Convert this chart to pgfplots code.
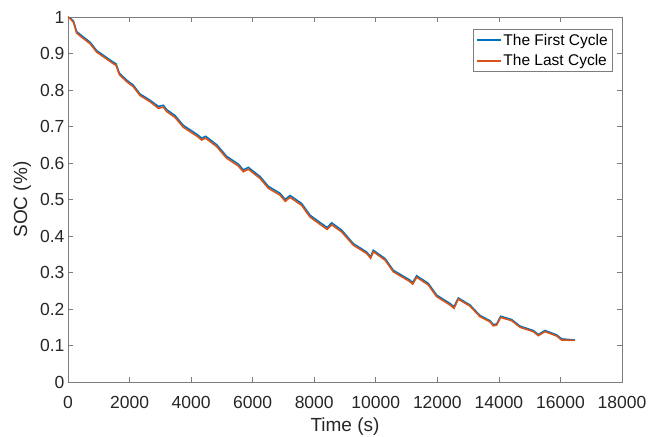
\documentclass[border=0pt]{standalone}
\usepackage{pgfplots}
\pgfplotsset{compat=1.18}
\usepackage{fontspec}
\setmainfont{Liberation Sans}
\definecolor{mblue}{RGB}{0,114,189}
\definecolor{morange}{RGB}{217,83,25}
\definecolor{axgray}{RGB}{125,125,125}
\definecolor{txtgray}{RGB}{38,38,38}
\begin{document}
\begin{tikzpicture}
\useasboundingbox (-68pt,-54pt) rectangle (595pt,382pt);
\begin{axis}[
  at={(0pt,0pt)}, anchor=south west,
  scale only axis, width=554pt, height=365pt,
  xmin=0, xmax=18000, ymin=0, ymax=1,
  xtick={0,2000,...,18000},
  ytick={0,0.1,...,1.0},
  /pgf/number format/assume math mode=true,
  /pgf/number format/1000 sep={},
  scaled x ticks=false,
  yticklabel style={/pgf/number format/fixed, /pgf/number format/precision=1},
  tick label style={font=\fontsize{17.5}{20}\selectfont, text=txtgray},
  xticklabel style={anchor=base, yshift=-26pt},
  label style={font=\fontsize{19}{22}\selectfont, text=txtgray},
  xlabel={Time (s)}, ylabel={SOC (\%)},
  xlabel style={at={(axis description cs:0.5,0)}, anchor=base, yshift=-49pt},
  ylabel style={at={(axis description cs:-0.074,0.5)}, anchor=base, rotate=0},
  axis line style={axgray, line width=0.6pt},
  every tick/.style={axgray, line width=0.6pt},
  major tick length=5pt,
  tick align=inside,
  legend style={at={(axis description cs:1,1)}, anchor=north east, xshift=-9pt, yshift=-12pt,
    draw=axgray, line width=0.6pt, font=\fontsize{15.5}{18}\selectfont, text=black,
    inner xsep=3pt, inner ysep=2.5pt, row sep=4pt, nodes={inner sep=2pt}},
  legend cell align=left,
  legend image code/.code={\draw[#1] (0pt,0pt) -- (24pt,0pt);},
]
\addplot[mblue, line width=1.6pt] coordinates {
(0,1.000) (100,0.995) (180,0.988) (280,0.960) (500,0.945) (715,0.931) (930,0.908)
(1200,0.892) (1473,0.876) (1560,0.872) (1668,0.846) (1906,0.827) (2122,0.813)
(2339,0.789) (2664,0.772) (2935,0.755) (3097,0.758) (3205,0.746) (3476,0.730)
(3746,0.703) (4181,0.679) (4344,0.668) (4474,0.673) (4831,0.650) (5156,0.618)
(5533,0.597) (5696,0.581) (5858,0.588) (6238,0.563) (6508,0.536) (6888,0.517)
(7060,0.500) (7213,0.511) (7592,0.489) (7862,0.457) (8187,0.437) (8420,0.423)
(8567,0.436) (8892,0.416) (9270,0.379) (9704,0.356) (9834,0.343) (9920,0.361)
(10300,0.338) (10570,0.306) (11111,0.279) (11198,0.272) (11329,0.291) (11706,0.270)
(11977,0.238) (12411,0.215) (12541,0.206) (12681,0.230) (13060,0.211) (13385,0.182)
(13710,0.168) (13818,0.157) (13927,0.159) (14057,0.180) (14415,0.171) (14685,0.153)
(15117,0.141) (15280,0.130) (15497,0.141) (15877,0.129) (16040,0.118) (16472,0.115)
};
\addlegendentry{The First Cycle}
\addplot[morange, line width=1.6pt] coordinates {
(0,1.000) (100,0.993) (180,0.985) (280,0.956) (500,0.941) (715,0.927) (930,0.904)
(1200,0.888) (1473,0.872) (1560,0.868) (1668,0.842) (1906,0.823) (2122,0.809)
(2339,0.785) (2664,0.768) (2935,0.750) (3097,0.753) (3205,0.741) (3476,0.725)
(3746,0.698) (4181,0.674) (4344,0.663) (4474,0.668) (4831,0.645) (5156,0.613)
(5533,0.592) (5696,0.576) (5858,0.583) (6238,0.558) (6508,0.531) (6888,0.512)
(7060,0.495) (7213,0.506) (7592,0.484) (7862,0.452) (8187,0.432) (8420,0.418)
(8567,0.431) (8892,0.411) (9270,0.375) (9704,0.352) (9834,0.339) (9920,0.357)
(10300,0.334) (10570,0.302) (11111,0.275) (11198,0.268) (11329,0.287) (11706,0.266)
(11977,0.234) (12411,0.211) (12541,0.202) (12681,0.227) (13060,0.208) (13385,0.179)
(13710,0.165) (13818,0.154) (13927,0.156) (14057,0.177) (14415,0.168) (14685,0.150)
(15117,0.138) (15280,0.127) (15497,0.138) (15877,0.126) (16040,0.115) (16472,0.114)
};
\addlegendentry{The Last Cycle}
\end{axis}
\end{tikzpicture}
\end{document}
